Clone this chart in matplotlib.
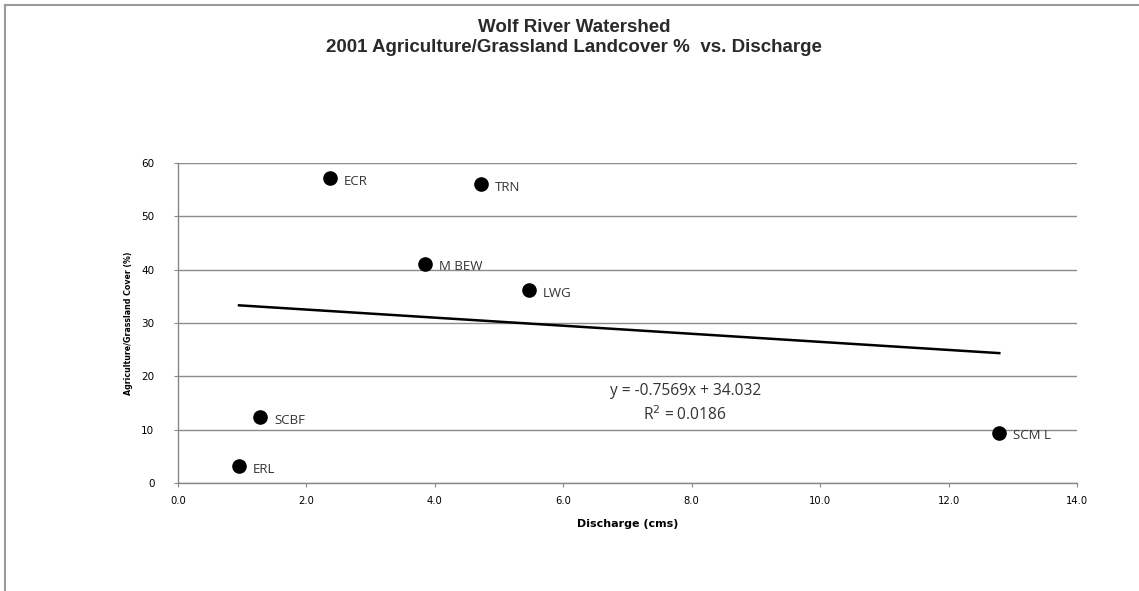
import matplotlib
matplotlib.use("Agg")
import matplotlib.pyplot as plt
from matplotlib.lines import Line2D
import numpy as np

# Data
sites = ["ECR", "TRN", "M BEW", "LWG", "SCBF", "ERL", "SCM L"]
discharge = [2.37, 4.72, 3.85, 5.46, 1.28, 0.95, 12.79]
agri_cover = [57.1, 56.0, 41.1, 36.1, 12.3, 3.1, 9.4]
slope = -0.7569
intercept = 34.032
r2 = 0.0186
x_ticks = [0, 2, 4, 6, 8, 10, 12, 14]
y_ticks = [0, 10, 20, 30, 40, 50, 60]

W, H = 1139, 591
fig = plt.figure(figsize=(W / 100, H / 100), dpi=100)
fig.patch.set_facecolor("white")

# Outer border (top and left only visible)
fig.add_artist(Line2D([5 / W, 1], [1 - 5 / H, 1 - 5 / H], color="#9a9a9a", lw=1.5, transform=fig.transFigure))
fig.add_artist(Line2D([5 / W, 5 / W], [0, 1 - 5 / H], color="#9a9a9a", lw=1.5, transform=fig.transFigure))

left, right = 178 / W, 1077 / W
bottom, top = 1 - 483 / H, 1 - 163 / H
ax = fig.add_axes([left, bottom, right - left, top - bottom])

ax.set_xlim(0, 14)
ax.set_ylim(0, 60)
ax.set_xticks(x_ticks)
ax.set_yticks(y_ticks)
ax.set_xticklabels([f"{v:.1f}" for v in x_ticks], fontsize=8, family="DejaVu Sans", stretch="condensed")
ax.set_yticklabels([str(v) for v in y_ticks], fontsize=7.5, family="DejaVu Sans")
ax.tick_params(axis="both", direction="out", length=3, width=0.8, color="#888888")
ax.tick_params(axis="y", pad=14)
ax.tick_params(axis="x", pad=6)

for s in ["top", "right"]:
    ax.spines[s].set_visible(False)
for s in ["left", "bottom"]:
    ax.spines[s].set_color("#888888")
    ax.spines[s].set_linewidth(1.0)

ax.yaxis.grid(True, color="#8c8c8c", lw=1.0)
ax.set_axisbelow(True)

# Scatter points
ax.plot(discharge, agri_cover, linestyle="none", marker="o", ms=9.5, color="black", zorder=3)
for xs, ys, lab in zip(discharge, agri_cover, sites):
    ax.annotate(lab, (xs, ys), xytext=(10, -2), textcoords="offset points",
                fontsize=9.5, va="center", ha="left", color="#333333", family="Open Sans")

# Trendline
xt = np.array([min(discharge), max(discharge)])
ax.plot(xt, slope * xt + intercept, color="black", lw=1.8, zorder=2)

# Equation text
ax.text(7.9, 17.3, f"y = {slope}x + {intercept}", fontsize=11.2, ha="center", va="center",
        family="Open Sans", color="#333333")
ax.text(7.9, 12.8, f"R$^2$ = {r2}", fontsize=11.2, ha="center", va="center",
        family="Open Sans", color="#333333")

# Axis labels
ax.set_xlabel("Discharge (cms)", fontsize=8, fontweight="bold", family="DejaVu Sans", labelpad=10)
ax.set_ylabel("Agriculture/Grassland Cover (%)", fontsize=6.3, fontweight="bold", family="DejaVu Sans",
              stretch="condensed", labelpad=6)

# Title
fig.text(574 / W, 1 - 27 / H, "Wolf River Watershed", fontsize=13.5, fontweight="bold",
         ha="center", va="center", family="Liberation Sans", color="#2a2a2a")
fig.text(574 / W, 1 - 48 / H, "2001 Agriculture/Grassland Landcover %  vs. Discharge", fontsize=13.5,
         fontweight="bold", ha="center", va="center", family="Liberation Sans", color="#2a2a2a")

fig.savefig("out.png", dpi=100, facecolor="white")
